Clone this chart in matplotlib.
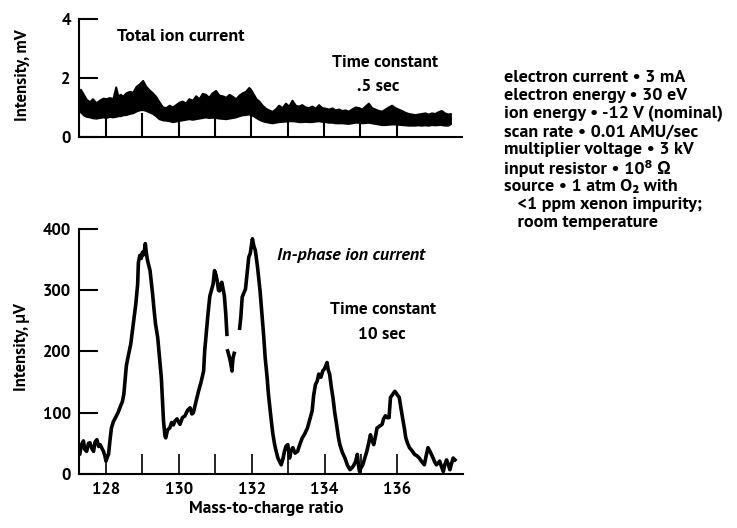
import matplotlib
matplotlib.use("Agg")
import matplotlib.pyplot as plt
import numpy as np

FONT = ["PT Sans", "DejaVu Sans"]
plt.rcParams.update(
    {
        "font.family": FONT,
        "font.weight": "bold",
        "font.size": 12.5,
        "axes.linewidth": 1.5,
        "xtick.major.width": 1.5,
        "ytick.major.width": 1.5,
    }
)

# total ion current band (upper / lower envelope of the noisy trace), mV
top_mass = [127.25, 127.30, 127.38, 127.46, 127.55, 127.63, 127.73, 127.82, 127.92, 128.00,
            128.10, 128.19, 128.27, 128.33, 128.40, 128.46, 128.55, 128.65, 128.74, 128.83,
            128.92, 129.01, 129.10, 129.19, 129.28, 129.37, 129.46, 129.56, 129.65, 129.74,
            129.83, 129.92, 130.01, 130.10, 130.19, 130.28, 130.38, 130.47, 130.56, 130.65,
            130.74, 130.83, 130.92, 131.02, 131.11, 131.20, 131.30, 131.39, 131.48, 131.57,
            131.66, 131.75, 131.84, 131.93, 131.98, 132.06, 132.13, 132.21, 132.30, 132.39,
            132.48, 132.57, 132.66, 132.75, 132.85, 132.94, 133.03, 133.12, 133.21, 133.30,
            133.39, 133.48, 133.57, 133.67, 133.76, 133.85, 133.94, 134.03, 134.13, 134.22,
            134.31, 134.40, 134.49, 134.58, 134.67, 134.76, 134.86, 134.95, 135.04, 135.13,
            135.22, 135.31, 135.40, 135.50, 135.59, 135.68, 135.77, 135.86, 135.95, 136.04,
            136.14, 136.23, 136.32, 136.41, 136.50, 136.59, 136.68, 136.78, 136.87, 136.96,
            137.05, 137.14, 137.23, 137.32, 137.41, 137.48]
top_upper = [1.35, 1.62, 1.45, 1.28, 1.20, 1.30, 1.16, 1.25, 1.32, 1.30,
             1.34, 1.30, 1.70, 1.40, 1.45, 1.38, 1.50, 1.55, 1.52, 1.72,
             1.80, 1.92, 1.72, 1.60, 1.50, 1.38, 1.20, 1.02, 1.00, 1.08,
             1.02, 1.10, 1.18, 1.22, 1.15, 1.30, 1.25, 1.40, 1.30, 1.48,
             1.45, 1.35, 1.50, 1.58, 1.42, 1.40, 1.35, 1.45, 1.38, 1.30,
             1.42, 1.50, 1.55, 1.68, 1.62, 1.45, 1.30, 1.22, 1.08, 0.98,
             0.92, 0.87, 0.95, 1.08, 1.00, 1.15, 1.05, 1.25, 1.08, 1.05,
             1.10, 1.02, 1.00, 1.05, 0.98, 1.10, 1.00, 0.98, 0.95, 0.99,
             0.92, 0.95, 0.90, 0.92, 0.88, 0.95, 1.02, 1.00, 0.95, 1.05,
             1.15, 1.00, 0.95, 0.90, 0.88, 0.95, 1.02, 1.08, 1.00, 0.95,
             0.90, 0.84, 0.80, 0.78, 0.76, 0.78, 0.80, 0.82, 0.78, 0.82,
             0.80, 0.86, 0.90, 0.82, 0.78, 0.80]
top_lower = [0.90, 0.85, 0.75, 0.70, 0.68, 0.65, 0.64, 0.66, 0.68, 0.66,
             0.70, 0.68, 0.70, 0.72, 0.72, 0.75, 0.76, 0.80, 0.82, 0.88,
             0.92, 0.93, 0.90, 0.85, 0.80, 0.72, 0.62, 0.58, 0.57, 0.55,
             0.52, 0.54, 0.56, 0.58, 0.60, 0.62, 0.60, 0.62, 0.64, 0.66,
             0.68, 0.66, 0.67, 0.66, 0.64, 0.63, 0.62, 0.64, 0.66, 0.68,
             0.72, 0.75, 0.76, 0.78, 0.76, 0.72, 0.66, 0.60, 0.55, 0.52,
             0.50, 0.48, 0.50, 0.52, 0.53, 0.54, 0.55, 0.55, 0.54, 0.52,
             0.52, 0.53, 0.52, 0.52, 0.54, 0.55, 0.53, 0.52, 0.50, 0.50,
             0.48, 0.48, 0.48, 0.47, 0.46, 0.48, 0.50, 0.50, 0.48, 0.49,
             0.50, 0.48, 0.46, 0.44, 0.42, 0.42, 0.43, 0.44, 0.44, 0.43,
             0.42, 0.41, 0.40, 0.40, 0.40, 0.41, 0.40, 0.41, 0.40, 0.42,
             0.41, 0.42, 0.42, 0.40, 0.40, 0.45]

# in-phase ion current, uV (nan = pen gaps in the record)
nan = np.nan
bot_mass = [127.19, 127.28, 127.33, 127.38, 127.42, 127.47, 127.52, 127.56, 127.61, 127.66,
            127.70, 127.75, 127.80, 127.84, 127.89, 127.93, 127.97, 128.00, 128.04, 128.07,
            128.11, 128.15, 128.20, 128.26, 128.33, 128.40, 128.45, 128.49, 128.56, 128.62,
            128.68, 128.75, 128.82, 128.87, 128.89, 128.93, 128.97, 129.00, 129.04, 129.08,
            129.11, 129.14, 129.21, 129.28, 129.32, 129.36, 129.42, 129.47, 129.52, 129.58,
            129.62, 129.64, 129.69, 129.75, 129.80, 129.85, 129.89, 129.95, 130.03, 130.10,
            130.17, 130.24, 130.31, 130.36, 130.40, 130.47, 130.54, 130.61, 130.68, 130.71,
            130.77, 130.80, 130.85, 130.89, 130.94, 130.98, 131.02, 131.05, 131.09, 131.12,
            131.15, 131.18, 131.22, 131.25, 131.29, 131.32, nan,
            131.34, 131.40, 131.43, 131.46, 131.47, 131.49, 131.52, nan,
            131.67, 131.70, 131.74, 131.79, 131.83, 131.88, 131.92, 131.96, 131.98, 132.02,
            132.06, 132.10, 132.16, 132.23, 132.28, 132.33, 132.37, 132.42, 132.46, 132.50,
            132.54, 132.58, 132.63, 132.68, 132.72, 132.77, 132.81, 132.86, 132.90, 132.94,
            132.99, 133.04, 133.08, 133.13, 133.19, 133.26, 133.32, 133.39, 133.46, 133.53,
            133.60, 133.66, 133.70, 133.75, 133.80, 133.84, 133.90, 133.95, 134.00, 134.07,
            134.10, 134.14, 134.19, 134.23, 134.28, 134.33, 134.38, 134.42, 134.49, 134.56,
            134.63, 134.70, 134.75, 134.79, 134.85, 134.90, 134.93, 134.96, 135.00, 135.05,
            135.10, 135.16, 135.21, 135.26, 135.30, 135.35, 135.40, 135.44, 135.51, 135.58,
            135.62, 135.67, 135.72, 135.77, 135.81, 135.87, 135.93, 135.99, 136.05, 136.09,
            136.14, 136.19, 136.23, 136.28, 136.33, 136.40, 136.47, 136.53, 136.60, 136.67,
            136.74, 136.79, 136.84, 136.91, 136.98, 137.02, 137.07, 137.12, 137.16, 137.21,
            137.26, 137.30, 137.35, 137.40, 137.44, 137.49, 137.53, 137.58]
bot_signal = [43, 32, 48, 54, 40, 37, 50, 51, 42, 37,
              52, 56, 45, 48, 42, 37, 30, 21, 28, 32,
              55, 75, 85, 92, 100, 111, 118, 130, 177, 195,
              212, 245, 278, 310, 345, 357, 352, 362, 358, 376,
              360, 349, 332, 294, 268, 245, 223, 190, 157, 86,
              62, 59, 72, 75, 84, 80, 86, 90, 81, 92,
              95, 104, 108, 98, 100, 118, 135, 150, 168, 201,
              240, 261, 290, 299, 310, 332, 325, 316, 300, 299,
              310, 313, 300, 291, 260, 228, nan,
              201, 188, 179, 168, 178, 190, 197, nan,
              238, 255, 289, 296, 302, 330, 354, 360, 368, 384,
              372, 365, 338, 299, 261, 225, 190, 160, 130, 108,
              86, 66, 48, 35, 26, 20, 15, 25, 37, 45,
              48, 26, 38, 43, 34, 37, 48, 59, 66, 75,
              90, 103, 128, 146, 152, 163, 158, 168, 172, 182,
              170, 163, 140, 125, 100, 81, 60, 48, 35, 26,
              14, 7, 10, 13, 20, 32, 15, 4, 10, 15,
              25, 37, 50, 64, 55, 48, 62, 75, 78, 81,
              90, 95, 92, 92, 125, 130, 135, 130, 125, 110,
              92, 75, 59, 50, 43, 38, 32, 30, 26, 20,
              15, 30, 43, 35, 26, 20, 15, 18, 21, 12,
              4, 15, 23, 15, 7, 18, 26, 23]

marker_mass = [128, 129, 130, 131, 132, 133, 134, 135, 136]
x_labels = [128, 130, 132, 134, 136]

notes = [
    "electron current • 3 mA",
    "electron energy • 30 eV",
    "ion energy • -12 V (nominal)",
    "scan rate • 0.01 AMU/sec",
    "multiplier voltage • 3 kV",
    "input resistor • 10⁸ Ω",
    "source • 1 atm O₂ with",
    "   <1 ppm xenon impurity;",
    "   room temperature",
]

xlim = (127.26, 137.8)

fig = plt.figure(figsize=(7.37, 5.28), dpi=100)
ax_top = fig.add_axes([0.1072, 0.7405, 0.5198, 0.2235])
ax_bot = fig.add_axes([0.1072, 0.1023, 0.5210, 0.4640])

for ax in (ax_top, ax_bot):
    ax.spines["top"].set_visible(False)
    ax.spines["right"].set_visible(False)
    ax.set_xlim(*xlim)
    ax.tick_params(axis="y", direction="in", length=14, pad=6, labelsize=12)

## Top panel
ax_top.vlines(marker_mass, 0, 0.8, color="black", lw=1.5, zorder=1)
ax_top.fill_between(top_mass, top_lower, top_upper, color="black", lw=1.4,
                    edgecolor="black", zorder=2)
ax_top.set_ylim(0, 4)
ax_top.set_yticks([0, 2, 4])
ax_top.set_xticks([])

## Bottom panel
ax_bot.vlines(marker_mass, 0, 33, color="black", lw=1.2, zorder=1)
ax_bot.plot(bot_mass, bot_signal, color="black", lw=2.6, zorder=2)
ax_bot.set_ylim(0, 400)
ax_bot.set_yticks([0, 100, 200, 300, 400])
ax_bot.set_xticks(x_labels)
ax_bot.tick_params(axis="x", length=0, pad=6, labelsize=12)

## Labels and annotations
fig.text(0.030, 0.858, "Intensity, mV", rotation=90, ha="center", va="center", fontsize=12)
fig.text(0.030, 0.343, "Intensity, μV", rotation=90, ha="center", va="center", fontsize=12)
fig.text(0.361, 0.036, "Mass-to-charge ratio", ha="center", va="center")

fig.text(0.159, 0.930, "Total ion current", ha="left", va="center", fontsize=13)
fig.text(0.522, 0.881, "Time constant", ha="center", va="center")
fig.text(0.513, 0.837, ".5 sec", ha="center", va="center")

fig.text(0.376, 0.517, "In-phase ion current", ha="left", va="center",
         style="italic", fontsize=13)
fig.text(0.520, 0.413, "Time constant", ha="center", va="center")
fig.text(0.518, 0.367, "10 sec", ha="center", va="center")

for i, line in enumerate(notes):
    fig.text(0.684, 0.854 - i * 0.0345, line, ha="left", va="center", fontsize=13)

fig.savefig("out.png", dpi=100)
